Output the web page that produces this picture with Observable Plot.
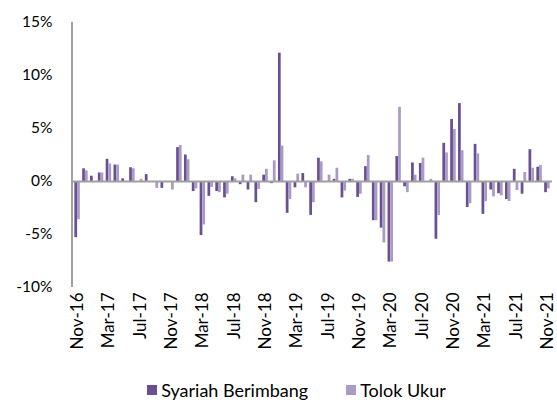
<!DOCTYPE html>
<html><head><meta charset="utf-8">
<script src="https://cdn.jsdelivr.net/npm/d3@7"></script>
<script src="https://cdn.jsdelivr.net/npm/@observablehq/plot@0.6"></script>
<style>
html,body{margin:0;padding:0;background:#fff;}
body{width:557px;height:402px;overflow:hidden;font-family:Lato,"Liberation Sans",sans-serif;}
#legend{display:flex;justify-content:center;align-items:center;height:20px;font-size:18px;line-height:20px;color:#000;margin-left:36px;}
#legend span.item{display:inline-flex;align-items:center;margin:0 19px;}
#legend i{display:inline-block;width:10px;height:10px;margin-right:4px;}
</style></head><body>
<div id="chart"></div>
<div id="legend"></div>
<script>
const months = ["Nov-16","Dec-16","Jan-17","Feb-17","Mar-17","Apr-17","May-17","Jun-17","Jul-17","Aug-17","Sep-17","Oct-17",
"Nov-17","Dec-17","Jan-18","Feb-18","Mar-18","Apr-18","May-18","Jun-18","Jul-18","Aug-18","Sep-18","Oct-18",
"Nov-18","Dec-18","Jan-19","Feb-19","Mar-19","Apr-19","May-19","Jun-19","Jul-19","Aug-19","Sep-19","Oct-19",
"Nov-19","Dec-19","Jan-20","Feb-20","Mar-20","Apr-20","May-20","Jun-20","Jul-20","Aug-20","Sep-20","Oct-20",
"Nov-20","Dec-20","Jan-21","Feb-21","Mar-21","Apr-21","May-21","Jun-21","Jul-21","Aug-21","Sep-21","Oct-21","Nov-21"];
const tickLabels = ["Nov-16","Mar-17","Jul-17","Nov-17","Mar-18","Jul-18","Nov-18","Mar-19","Jul-19","Nov-19","Mar-20","Jul-20","Nov-20","Mar-21","Jul-21","Nov-21"];
const seriesNames = ["Syariah Berimbang","Tolok Ukur"];
const syariah = [-5.3,1.2,0.5,0.8,2.1,1.55,0.25,1.3,0.0,0.65,0.0,-0.65,
0.0,3.2,2.5,-0.95,-5.1,-1.4,-0.95,-1.55,0.45,-0.3,-0.8,-2.0,
0.6,-0.2,12.1,-3.0,-0.6,0.75,-3.2,2.2,0.0,0.2,-1.55,0.2,
-1.5,1.4,-3.7,-4.4,-7.6,2.35,-0.5,1.75,1.7,0.0,-5.45,3.6,
5.85,7.35,-2.45,3.5,-3.1,-0.8,-1.15,-1.7,1.15,-1.2,3.0,1.35,-1.05];
const tolok = [-3.6,1.0,-0.1,0.8,1.65,1.55,0.0,1.2,0.2,0.0,-0.65,0.0,
-0.8,3.4,2.05,-0.7,-4.1,-0.55,-1.05,-1.2,0.25,0.6,0.6,-0.75,
1.15,1.95,3.35,-1.7,0.7,-0.6,-2.0,1.85,0.6,1.25,-0.9,0.2,
-1.2,2.45,-3.7,-5.8,-7.6,7.0,-1.05,0.6,2.2,0.2,-3.2,2.7,
4.9,2.9,-2.1,2.6,-1.9,-1.45,-1.35,-1.9,-0.85,0.85,1.25,1.5,-0.7];
const yTicks = [-10,-5,0,5,10,15];
const colors = ["#6b4f93","#a99bc6"];

const W = 557, H = 380, mL = 72, mR = 5, mT = 22, mB = 93, pad = 0.3;
const step = (W - mL - mR) / (months.length - pad + 2 * pad);
const bw = step * (1 - pad);

const dataS = months.map((m, i) => ({month: m, value: syariah[i]}));
const dataT = months.map((m, i) => ({month: m, value: tolok[i]}));

const chart = Plot.plot({
  width: W, height: H,
  marginLeft: mL, marginRight: mR, marginTop: mT, marginBottom: mB,
  style: {fontFamily: "Lato, 'Liberation Sans', sans-serif", fontSize: "15.5px", color: "#000", background: "#fff"},
  x: {type: "band", domain: months, padding: pad, label: null, tickSize: 0, tickPadding: 5, tickRotate: -90,
      tickFormat: d => tickLabels.includes(d) ? d : ""},
  y: {domain: [-10, 15], ticks: yTicks, tickFormat: d => d + "%", label: null, tickSize: 0, tickPadding: 20},
  marks: [
    Plot.barY(dataS, {x: "month", y: "value", fill: colors[0], insetRight: bw / 2, insetLeft: 0}),
    Plot.barY(dataT, {x: "month", y: "value", fill: colors[1], insetLeft: bw / 2, insetRight: 0}),
    Plot.ruleY([0], {stroke: "#a0a0a0", strokeWidth: 2})
  ]
});
document.getElementById("chart").appendChild(chart);

const svg = d3.select(chart);
svg.selectAll('g[aria-label="x-axis"] text, g[aria-label="x-axis tick label"] text').style("font-size", "17px");
svg.append("line").attr("x1", mL).attr("x2", mL).attr("y1", mT).attr("y2", H - mB)
  .attr("stroke", "#a0a0a0").attr("stroke-width", 2);

const legend = d3.select("#legend");
seriesNames.forEach((name, i) => {
  const it = legend.append("span").attr("class", "item");
  it.append("i").style("background", colors[i]);
  it.append("span").text(name);
});
</script>
</body></html>
